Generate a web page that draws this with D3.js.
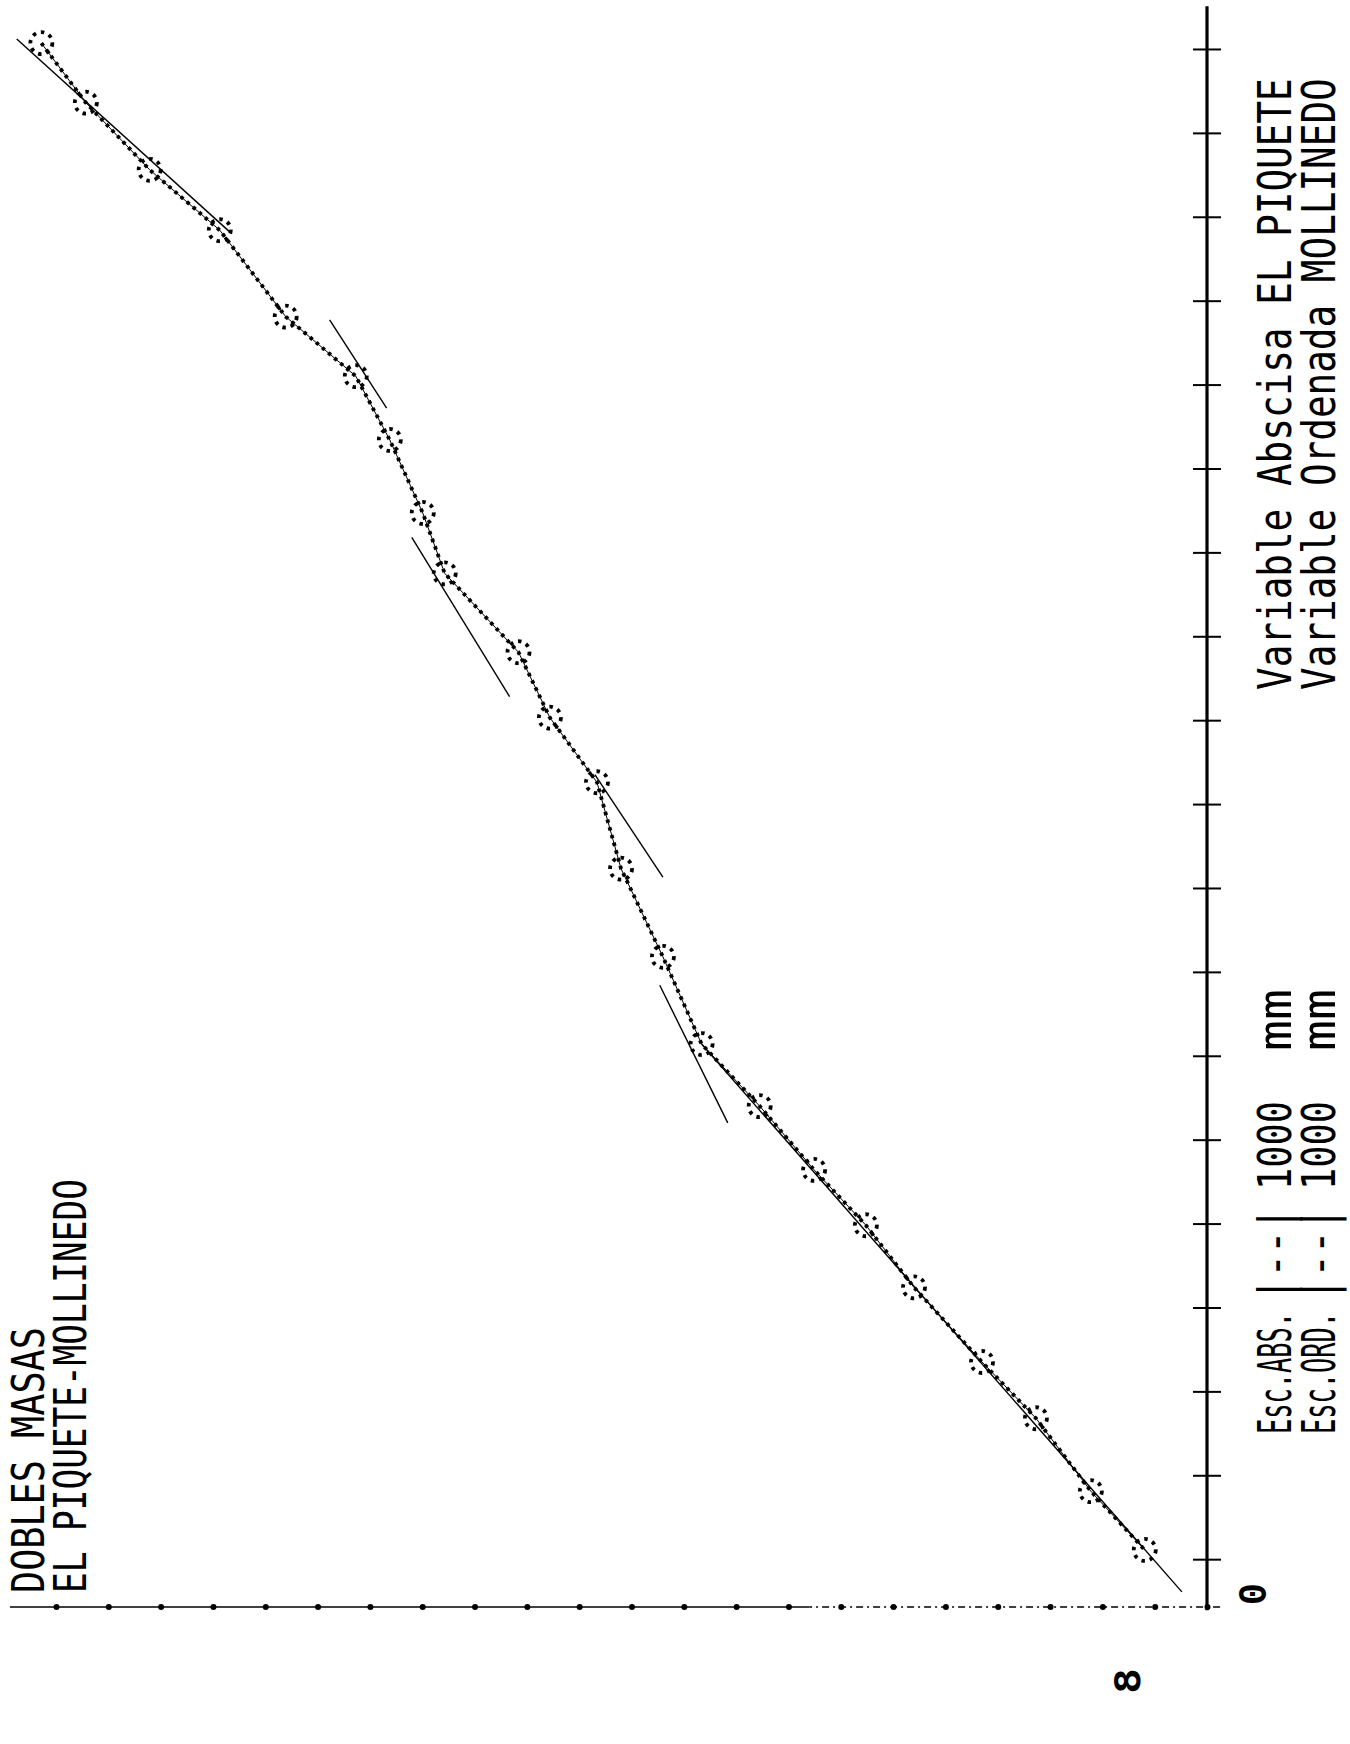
<!DOCTYPE html>
<html lang="es">
<head>
<meta charset="utf-8">
<title>Dobles masas El Piquete - Mollinedo</title>
<script src="https://d3js.org/d3.v7.min.js"></script>
<style>
  body { margin: 0; background: #fff; }
  text { font-family: "DejaVu Sans Mono", "Liberation Mono", monospace; fill: #000; }
</style>
</head>
<body>
<script>
  // acumulados (mm), de arriba hacia abajo
  const abscisa  = [18640, 17930, 17130, 16410, 15380, 14670, 13910, 13040, 12320, 11380, 10600, 9830,
                    8800, 7750, 6710, 5970, 5210, 4550, 3810, 2920, 2250, 1380, 680];
  const ordenada = [22280, 21430, 20210, 18870, 17610, 16270, 15620, 14990, 14570, 13160, 12560, 11660,
                    11200, 10400, 9660, 8550, 7510, 6520, 5600, 4300, 3270, 2220, 1190];

  // rectas de ajuste por tramos: [abs0, ord0, abs1, ord1]
  const tramos = [
    [18690, 22750, 16390, 18680],
    [15340, 16770, 14290, 15680],
    [12750, 15200, 10850, 13330],
    [9920, 11700, 8700, 10400],
    [7410, 10460, 5770, 9160],
    [6710, 9660, 180, 480]
  ];

  // marcas de los ejes
  const ticksAbs = d3.range(570, 19000, 1000);
  const ticksOrd = d3.range(0, 22001, 1000);

  const titulo = ["DOBLES MASAS", "EL PIQUETE-MOLLINEDO"];
  const escalas = [["Esc.ABS.", "|--|", "1000", "mm"], ["Esc.ORD.", "|--|", "1000", "mm"]];
  const variables = ["Variable Abscisa EL PIQUETE", "Variable Ordenada MOLLINEDO"];

  const width = 1350, height = 1744;

  const svg = d3.select("body").append("svg")
      .attr("width", width)
      .attr("height", height);

  svg.append("rect").attr("width", width).attr("height", height).attr("fill", "#fff");

  // grafico girado: abscisa hacia arriba, ordenada hacia la izquierda
  const yAbs = d3.scaleLinear().domain([0, 1000]).range([1607, 1523.1]);
  const xOrd = d3.scaleLinear().domain([0, 22000]).range([1207, 56]);

  // eje de ordenadas (horizontal, abajo) con puntos; el tramo derecho sale punteado en la copia
  svg.append("line")
      .attr("x1", xOrd(7600)).attr("x2", xOrd(22880))
      .attr("y1", yAbs(0)).attr("y2", yAbs(0))
      .attr("stroke", "#000").attr("stroke-width", 1.6);
  svg.append("line")
      .attr("x1", xOrd(-250)).attr("x2", xOrd(7600))
      .attr("y1", yAbs(0)).attr("y2", yAbs(0))
      .attr("stroke", "#000").attr("stroke-width", 1.6)
      .attr("stroke-dasharray", "7,4,2,4");

  const ejeOrd = svg.append("g")
      .attr("transform", "translate(0," + yAbs(0) + ")")
      .call(d3.axisBottom(xOrd).tickValues(ticksOrd).tickSize(0).tickFormat(""));
  ejeOrd.select(".domain").remove();
  ejeOrd.selectAll(".tick").append("circle")
      .attr("r", 3).attr("fill", "#000");

  // eje de abscisas (vertical, derecha)
  svg.append("line")
      .attr("x1", xOrd(0)).attr("x2", xOrd(0))
      .attr("y1", yAbs(-40)).attr("y2", yAbs(19080))
      .attr("stroke", "#000").attr("stroke-width", 3.2);

  const ejeAbs = svg.append("g")
      .attr("transform", "translate(" + (xOrd(0) + 14) + ",0)")
      .call(d3.axisLeft(yAbs).tickValues(ticksAbs).tickSize(28).tickFormat(""));
  ejeAbs.select(".domain").remove();
  ejeAbs.selectAll(".tick line").attr("stroke", "#000").attr("stroke-width", 2);

  // rectas de ajuste
  svg.selectAll(".tramo")
      .data(tramos)
      .enter()
      .append("line")
      .attr("class", "tramo")
      .attr("x1", d => xOrd(d[1])).attr("y1", d => yAbs(d[0]))
      .attr("x2", d => xOrd(d[3])).attr("y2", d => yAbs(d[2]))
      .attr("stroke", "#000").attr("stroke-width", 1.4);

  // curva de dobles masas
  const puntos = abscisa.map((a, i) => [a, ordenada[i]]);
  const linea = d3.line().x(d => xOrd(d[1])).y(d => yAbs(d[0]));

  svg.append("path")
      .datum(puntos)
      .attr("d", linea)
      .attr("fill", "none")
      .attr("stroke", "#000").attr("stroke-width", 1);

  svg.append("path")
      .datum(puntos)
      .attr("d", linea)
      .attr("fill", "none")
      .attr("stroke", "#000").attr("stroke-width", 3.8)
      .attr("stroke-dasharray", "3.5,4.5");

  svg.selectAll(".punto")
      .data(puntos)
      .enter()
      .append("circle")
      .attr("class", "punto")
      .attr("cx", d => xOrd(d[1]))
      .attr("cy", d => yAbs(d[0]))
      .attr("r", 11)
      .attr("fill", "none")
      .attr("stroke", "#000").attr("stroke-width", 3.8)
      .attr("stroke-dasharray", "3.5,5");

  // textos girados, estirados a la longitud medida
  function texto(x, y, str, len, size, weight, family) {
    const t = svg.append("text")
        .attr("font-size", size)
        .attr("font-weight", weight || "normal")
        .text(str);
    if (family) t.style("font-family", family);
    const natural = t.node().getComputedTextLength();
    const sx = len / natural;
    t.attr("transform", "translate(" + x + "," + y + ") rotate(-90) scale(" + sx + ",1)");
  }

  texto(44, 1593, titulo[0], 266, 44);
  texto(86, 1593, titulo[1], 414, 44);

  // lineas de escala, por piezas
  const piezasY = [1434, 1301, 1190, 1051];
  const piezasL = [122, 94, 89, 62];
  escalas.forEach((fila, j) => {
    fila.forEach((p, k) => texto(1291 + j * 44, piezasY[k], p, piezasL[k], 46));
  });

  texto(1291, 690, variables[0], 612, 46);
  texto(1335, 690, variables[1], 612, 46);

  texto(1266, 1605, "0", 22, 40, "bold", "Liberation Mono");
  texto(1140, 1694, "8", 26, 36, "bold");
</script>
</body>
</html>
